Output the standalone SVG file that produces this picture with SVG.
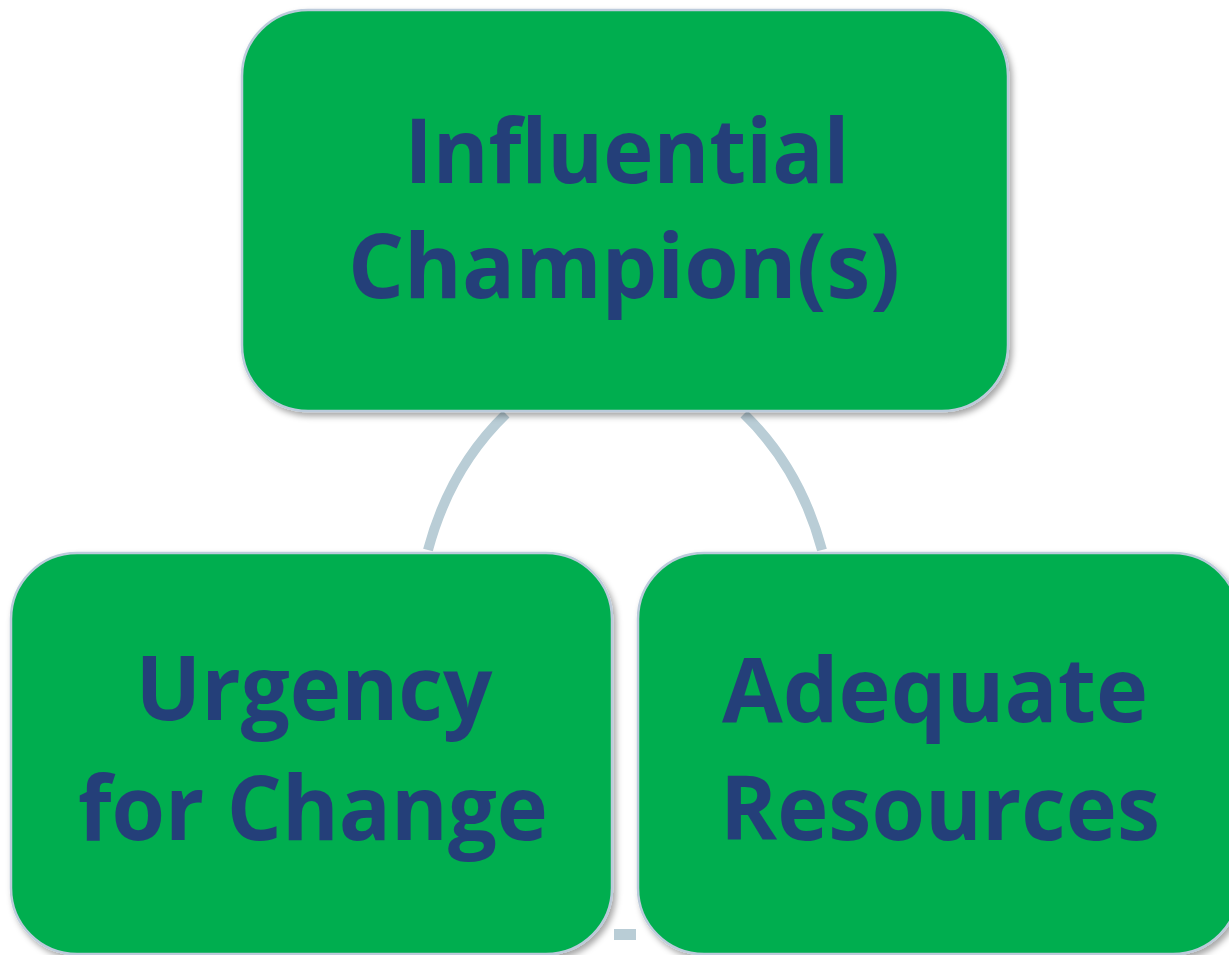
<svg xmlns="http://www.w3.org/2000/svg" width="1229" height="955" viewBox="0 0 1229 955">
<defs>
<filter id="sh" x="-5%" y="-5%" width="115%" height="115%">
<feDropShadow dx="3" dy="4" stdDeviation="3" flood-color="#000" flood-opacity="0.35"/>
</filter>
</defs>
<style>
.box{fill:#00ae4f;stroke:#bccbdb;stroke-width:2.5;filter:url(#sh)}
.t{font-family:"Open Sans","Liberation Sans",sans-serif;font-weight:bold;font-size:90px;fill:#243f79;text-anchor:middle}
.c{fill:none;stroke:#b9cdd6;stroke-width:10}
</style>
<rect x="0" y="0" width="1229" height="955" fill="#fff"/>
<g id="connectors">
<path class="c" d="M506,414 Q450,468 428,550"/>
<path class="c" d="M744,414 Q800,468 822,550"/>
<rect x="614" y="929" width="22" height="11" fill="#b9cdd6"/>
</g>
<g id="node-influential">
<rect class="box" x="242" y="10" width="766" height="401" rx="66"/>
<text class="t" x="627" y="183" textLength="445" lengthAdjust="spacingAndGlyphs">Influential</text>
<text class="t" x="624" y="298" textLength="552" lengthAdjust="spacingAndGlyphs">Champion(s)</text>
</g>
<g id="node-urgency">
<rect class="box" x="11" y="553" width="601" height="401" rx="66"/>
<text class="t" x="314" y="720" textLength="357" lengthAdjust="spacingAndGlyphs">Urgency</text>
<text class="t" x="313" y="840" textLength="470" lengthAdjust="spacingAndGlyphs">for Change</text>
</g>
<g id="node-adequate">
<rect class="box" x="638" y="553" width="601" height="401" rx="66"/>
<text class="t" x="935" y="722" textLength="426" lengthAdjust="spacingAndGlyphs">Adequate</text>
<text class="t" x="940" y="840" textLength="440" lengthAdjust="spacingAndGlyphs">Resources</text>
</g>
</svg>
